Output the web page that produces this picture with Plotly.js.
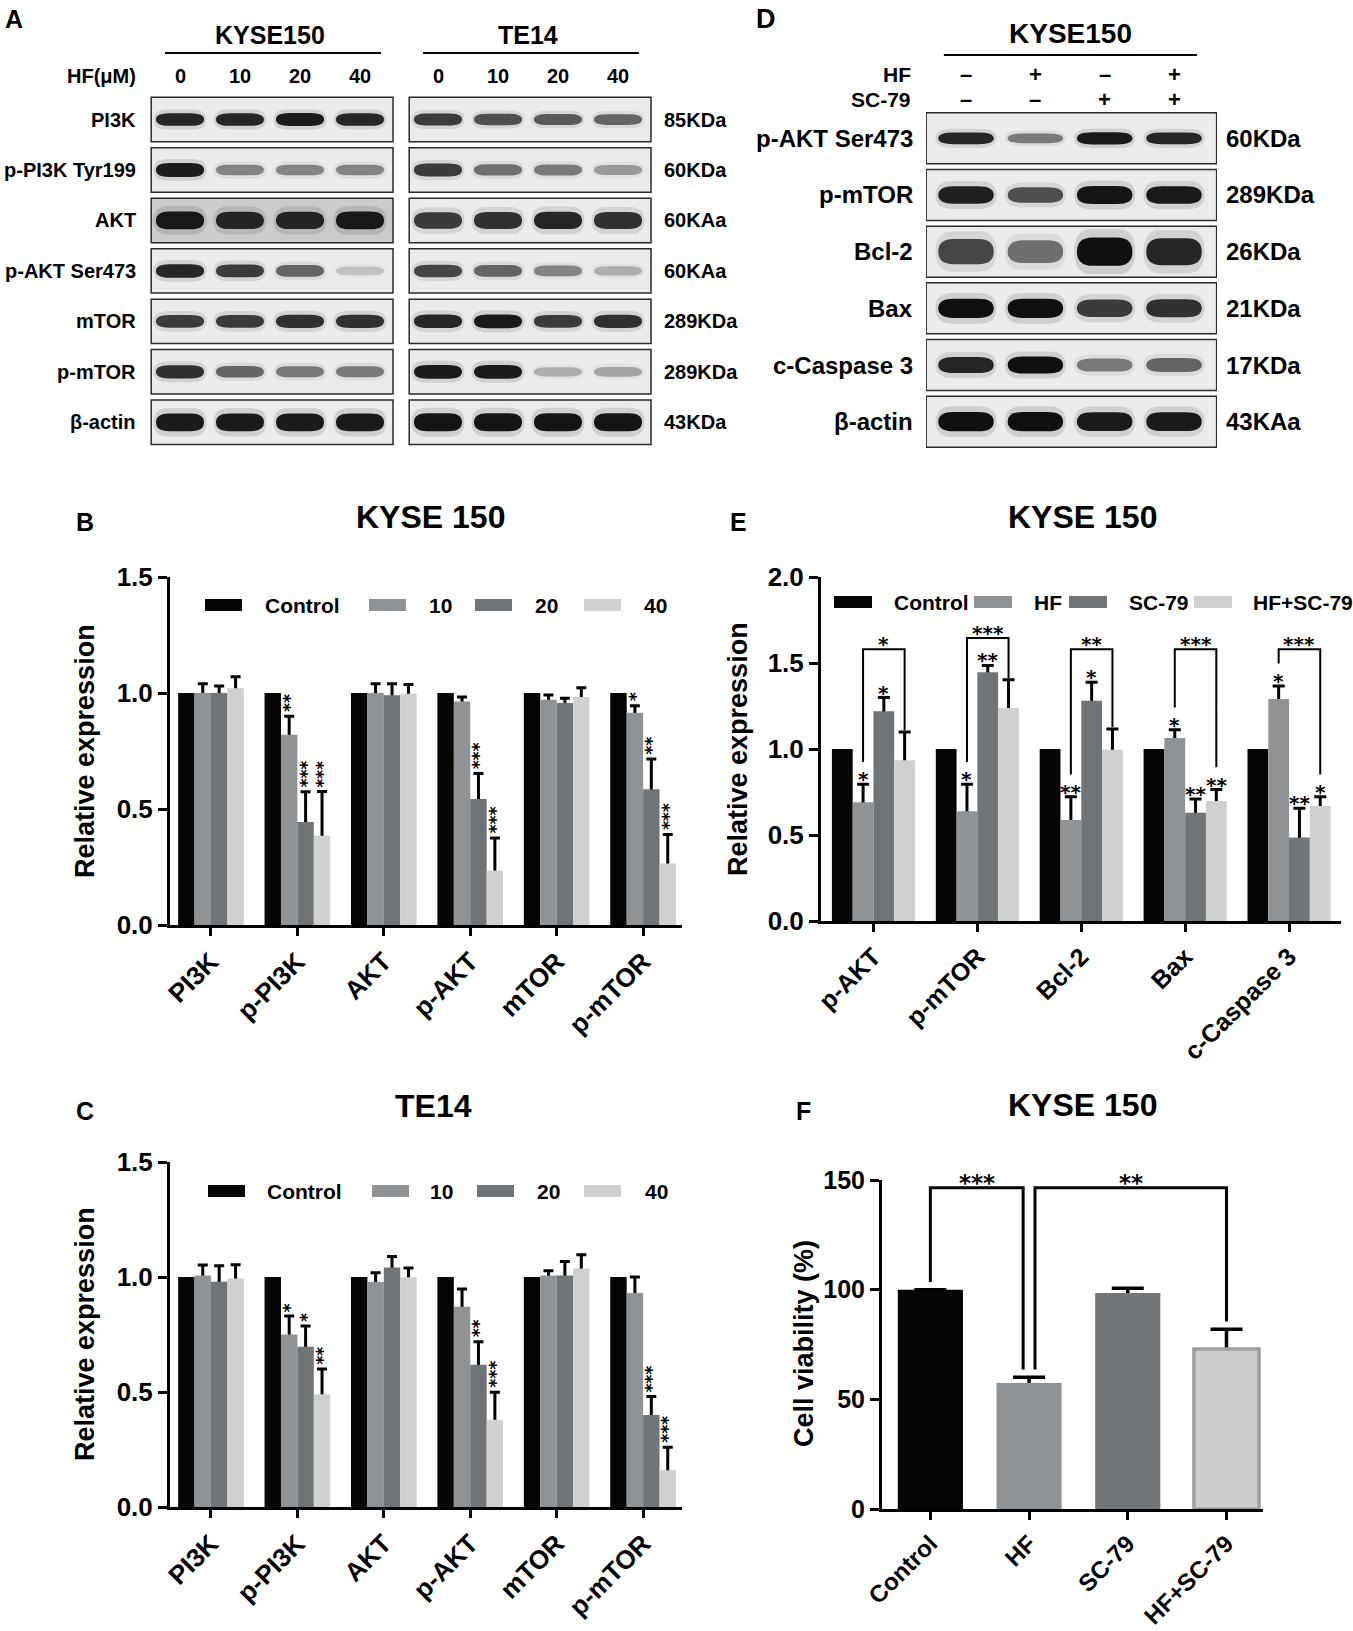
<!DOCTYPE html>
<html>
<head>
<meta charset="utf-8">
<script src="https://cdn.plot.ly/plotly-3.0.1.min.js"></script>
<style>html,body{margin:0;padding:0;background:#fff;}#chart{width:1353px;height:1631px;}</style>
</head>
<body>
<div id="chart"></div>
<script>
// ================= DATA =================
// Panels B / C
const markersBC = ['PI3K', 'p-PI3K', 'AKT', 'p-AKT', 'mTOR', 'p-mTOR'];
const doseNames = ['Control', '10', '20', '40'];
const kyseControl = [1, 1, 1, 1, 1, 1];
const kyse10 = [1.00, 0.82, 1.00, 0.963, 0.971, 0.915];
const kyse20 = [1.00, 0.444, 0.99, 0.543, 0.957, 0.585];
const kyse40 = [1.02, 0.385, 0.997, 0.235, 0.983, 0.265];
const kyseErr10 = [0.04, 0.08, 0.04, 0.02, 0.02, 0.03];
const kyseErr20 = [0.03, 0.13, 0.05, 0.11, 0.02, 0.13];
const kyseErr40 = [0.05, 0.19, 0.04, 0.14, 0.04, 0.125];
const kyseSig10 = ['', '**', '', '', '', '*'];
const kyseSig20 = ['', '***', '', '***', '', '**'];
const kyseSig40 = ['', '***', '', '***', '', '***'];

const te14Control = [1, 1, 1, 1, 1, 1];
const te14_10 = [1.007, 0.75, 0.978, 0.871, 1.007, 0.93];
const te14_20 = [0.979, 0.697, 1.041, 0.618, 1.007, 0.40];
const te14_40 = [0.993, 0.49, 0.999, 0.379, 1.037, 0.16];
const te14Err10 = [0.045, 0.08, 0.04, 0.077, 0.02, 0.07];
const te14Err20 = [0.07, 0.09, 0.048, 0.10, 0.06, 0.08];
const te14Err40 = [0.06, 0.11, 0.04, 0.12, 0.06, 0.10];
const te14Sig10 = ['', '*', '', '', '', ''];
const te14Sig20 = ['', '*', '', '**', '', '***'];
const te14Sig40 = ['', '**', '', '***', '', '***'];

// Panel E
const markersE = ['p-AKT', 'p-mTOR', 'Bcl-2', 'Bax', 'c-Caspase 3'];
const treatNames = ['Control', 'HF', 'SC-79', 'HF+SC-79'];
const eControl = [1, 1, 1, 1, 1];
const eHF = [0.69, 0.638, 0.587, 1.064, 1.29];
const eSC79 = [1.219, 1.446, 1.28, 0.629, 0.485];
const eHFSC79 = [0.934, 1.238, 0.996, 0.697, 0.668];
const eErrHF = [0.105, 0.157, 0.135, 0.048, 0.077];
const eErrSC79 = [0.08, 0.04, 0.108, 0.081, 0.17];
const eErrHFSC79 = [0.165, 0.165, 0.12, 0.067, 0.054];
const eSigHF = ['*', '*', '**', '*', '*'];
const eSigSC79 = ['*', '**', '*', '**', '**'];
const eSigHFSC79 = ['', '', '', '**', '*'];
const eSigHFvsHFSC79 = ['*', '***', '**', '***', '***'];

// Panel F
const fGroups = ['Control', 'HF', 'SC-79', 'HF+SC-79'];
const fViability = [100, 57.4, 98.5, 73.0];
const fErr = [0, 2.7, 2.1, 9.0];
const fCompFrom = [0, 1];
const fCompTo = [1, 3];
const fCompSig = ['***', '**'];

// Panel A (western blots)
const blotACells = ['KYSE150', 'TE14'];
const blotADoses = ['0', '10', '20', '40'];
const blotAProteins = ['PI3K', 'p-PI3K Tyr199', 'AKT', 'p-AKT Ser473', 'mTOR', 'p-mTOR', 'β-actin'];
const blotAKda = ['85KDa', '60KDa', '60KAa', '60KAa', '289KDa', '289KDa', '43KDa'];
const bandsKyse150 = [
  [0.90, 0.90, 0.95, 0.90],
  [0.95, 0.45, 0.45, 0.45],
  [0.95, 0.90, 0.90, 0.95],
  [0.90, 0.80, 0.60, 0.15],
  [0.80, 0.80, 0.85, 0.85],
  [0.85, 0.60, 0.50, 0.50],
  [0.95, 0.95, 0.95, 0.95]
];
const bandsTE14 = [
  [0.80, 0.70, 0.65, 0.60],
  [0.80, 0.55, 0.50, 0.35],
  [0.80, 0.85, 0.90, 0.85],
  [0.75, 0.60, 0.45, 0.25],
  [0.90, 0.95, 0.80, 0.85],
  [0.95, 0.95, 0.25, 0.30],
  [0.98, 0.98, 0.98, 0.98]
];

// Panel D (western blots)
const blotDCell = 'KYSE150';
const blotDHF = ['–', '+', '–', '+'];
const blotDSC79 = ['–', '–', '+', '+'];
const blotDProteins = ['p-AKT Ser473', 'p-mTOR', 'Bcl-2', 'Bax', 'c-Caspase 3', 'β-actin'];
const blotDKda = ['60KDa', '289KDa', '26KDa', '21KDa', '17KDa', '43KAa'];
const bandsD = [
  [0.90, 0.50, 0.95, 0.90],
  [0.92, 0.70, 0.98, 0.95],
  [0.75, 0.55, 1.00, 0.90],
  [1.00, 1.00, 0.80, 0.85],
  [0.90, 1.00, 0.50, 0.60],
  [1.00, 1.00, 0.95, 0.95]
];

// ================= STYLE / BUILD =================
const W = 1353, H = 1631;
const px = v => v / W;
const py = v => 1 - v / H;
const FONT = '"Liberation Sans", Arial, Helvetica, sans-serif';
const STARFONT = '"DejaVu Sans", "Liberation Sans", sans-serif';
const F = (size, weight) => ({family: FONT, size: size, color: '#000', weight: weight || 'bold'});
const SF = size => ({family: STARFONT, size: size, color: '#000', weight: 'bold'});
const C_CTRL = '#050505', C_1 = '#909396', C_2 = '#717477', C_3 = '#cfd0d0';

const traces = [], shapes = [], annotations = [];
function note(text, x, y, o) {
  annotations.push(Object.assign({text: text, x: x, y: y, xref: 'paper', yref: 'paper', showarrow: false,
    xanchor: 'center', yanchor: 'middle', font: F(20)}, o || {}));
}

function addGroupedBars(o) {
  const n = o.series.length, bw = o.groupW / n;
  const xs = o.cats.map((c, i) => i);
  const off = i => -o.groupW / 2 + i * bw;
  o.series.forEach((s, i) => {
    if (!s.err) return;
    traces.push({type: 'bar', x: xs, y: s.y, xaxis: o.xa, yaxis: o.ya, offset: off(i), width: bw,
      marker: {color: 'rgba(0,0,0,0)', line: {width: 0}},
      error_y: {type: 'data', array: s.err, symmetric: true, color: '#000', thickness: o.errThick, width: o.capW},
      hoverinfo: 'skip', showlegend: false});
  });
  o.series.forEach((s, i) => {
    traces.push({type: 'bar', x: xs, y: s.y, xaxis: o.xa, yaxis: o.ya, offset: off(i), width: bw, name: s.name,
      marker: {color: s.color, line: {width: 0}}, hoverinfo: 'skip', showlegend: false});
  });
  o.series.forEach((s, i) => {
    if (!s.sig) return;
    s.sig.forEach((t, j) => {
      if (!t) return;
      const xc = j + off(i) + bw / 2, top = s.y[j] + s.err[j];
      if (o.vertical) note(t, xc, top, {xref: o.xa, yref: o.ya, textangle: 90, yanchor: 'bottom', yshift: 2, xshift: -5, font: SF(17)});
      else note(t, xc, top, {xref: o.xa, yref: o.ya, yanchor: 'bottom', yshift: -9, font: SF(20)});
    });
  });
  return {bw: bw, off: off};
}

function addLegend(names, colors, swX, txX, yPx, swW, fs) {
  names.forEach((nm, i) => {
    shapes.push({type: 'rect', xref: 'paper', yref: 'paper', x0: px(swX[i]), x1: px(swX[i] + swW),
      y0: py(yPx + 6), y1: py(yPx - 6), fillcolor: colors[i], line: {width: 0}});
    note(nm, px(txX[i]), py(yPx), {xanchor: 'left', font: F(fs)});
  });
}

// ---- Panel B
addGroupedBars({xa: 'x', ya: 'y', cats: markersBC, groupW: 0.76, errThick: 3, capW: 5, vertical: true,
  series: [
    {name: doseNames[0], y: kyseControl, color: C_CTRL},
    {name: doseNames[1], y: kyse10, err: kyseErr10, sig: kyseSig10, color: C_1},
    {name: doseNames[2], y: kyse20, err: kyseErr20, sig: kyseSig20, color: C_2},
    {name: doseNames[3], y: kyse40, err: kyseErr40, sig: kyseSig40, color: C_3}
  ]});
addLegend(doseNames, [C_CTRL, C_1, C_2, C_3], [205, 369, 475, 584], [263, 427, 533, 642], 605, 37, 21);

// ---- Panel C
addGroupedBars({xa: 'x2', ya: 'y2', cats: markersBC, groupW: 0.76, errThick: 3, capW: 5, vertical: true,
  series: [
    {name: doseNames[0], y: te14Control, color: C_CTRL},
    {name: doseNames[1], y: te14_10, err: te14Err10, sig: te14Sig10, color: C_1},
    {name: doseNames[2], y: te14_20, err: te14Err20, sig: te14Sig20, color: C_2},
    {name: doseNames[3], y: te14_40, err: te14Err40, sig: te14Sig40, color: C_3}
  ]});
addLegend(doseNames, [C_CTRL, C_1, C_2, C_3], [208, 372, 477, 584], [265, 428, 535, 643], 1191, 37, 21);

// ---- Panel E
const eSeries = [
  {name: treatNames[0], y: eControl, color: C_CTRL},
  {name: treatNames[1], y: eHF, err: eErrHF, sig: eSigHF, color: C_1},
  {name: treatNames[2], y: eSC79, err: eErrSC79, sig: eSigSC79, color: C_2},
  {name: treatNames[3], y: eHFSC79, err: eErrHFSC79, sig: eSigHFSC79, color: C_3}
];
const eGeom = addGroupedBars({xa: 'x3', ya: 'y3', cats: markersE, groupW: 0.8, errThick: 3, capW: 6, vertical: false, series: eSeries});
addLegend(treatNames, [C_CTRL, C_1, C_2, C_3], [834, 974, 1069, 1194], [892, 1032, 1127, 1251], 602, 38, 21);
markersE.forEach((m, j) => {
  const xL = j + eGeom.off(1) + eGeom.bw / 2, xR = j + eGeom.off(3) + eGeom.bw / 2;
  const tops = eSeries.filter(s => s.err).map(s => s.y[j] + s.err[j]);
  const top = Math.max(1.58, Math.max.apply(null, tops) + 0.16);
  const bL = eHF[j] + eErrHF[j] + (eSigHF[j] ? 0.13 : 0.01);
  const bR = eHFSC79[j] + eErrHFSC79[j] + (eSigHFSC79[j] ? 0.13 : 0.01);
  shapes.push({type: 'path', xref: 'x3', yref: 'y3',
    path: 'M' + xL + ',' + bL + ' L' + xL + ',' + top + ' L' + xR + ',' + top + ' L' + xR + ',' + bR,
    line: {color: '#000', width: 2}, fillcolor: 'rgba(0,0,0,0)'});
  note(eSigHFvsHFSC79[j], (xL + xR) / 2, top, {xref: 'x3', yref: 'y3', yanchor: 'bottom', yshift: -9, font: SF(20)});
});

// ---- Panel F
const fColors = [C_CTRL, '#8f9295', '#727578', '#cccdcd'];
const fLines = [C_CTRL, '#8f9295', '#727578', '#9fa0a1'];
const fx = fGroups.map((g, i) => i);
traces.push({type: 'bar', x: fx, y: fViability, xaxis: 'x4', yaxis: 'y4', offset: -0.33, width: 0.66,
  marker: {color: 'rgba(0,0,0,0)', line: {width: 0}},
  error_y: {type: 'data', array: fErr, symmetric: true, color: '#000', thickness: 3.5, width: 16},
  hoverinfo: 'skip', showlegend: false});
traces.push({type: 'bar', x: fx, y: fViability, xaxis: 'x4', yaxis: 'y4', offset: -0.33, width: 0.66,
  marker: {color: fColors, line: {color: fLines, width: [0, 0, 0, 3.5]}}, hoverinfo: 'skip', showlegend: false});
(function () {
  const count = {};
  fCompFrom.concat(fCompTo).forEach(k => { count[k] = (count[k] || 0) + 1; });
  const brTop = 146.5;
  fCompFrom.forEach((a, c) => {
    const b = fCompTo[c];
    const xL = a + (count[a] > 1 ? 0.06 : 0), xR = b - (count[b] > 1 ? 0.06 : 0);
    const bL = fViability[a] + fErr[a] + 3.5, bR = fViability[b] + fErr[b] + 3.5;
    shapes.push({type: 'path', xref: 'x4', yref: 'y4',
      path: 'M' + xL + ',' + bL + ' L' + xL + ',' + brTop + ' L' + xR + ',' + brTop + ' L' + xR + ',' + bR,
      line: {color: '#000', width: 3}, fillcolor: 'rgba(0,0,0,0)'});
    note(fCompSig[c], (xL + xR) / 2, brTop, {xref: 'x4', yref: 'y4', yanchor: 'bottom', yshift: -10, font: SF(23)});
  });
})();

// ---- Blot helpers
function capsule(xc, yc, w, h) {
  const x0 = xc - w / 2, x1 = xc + w / 2, y0 = yc - h / 2, y1 = yc + h / 2, r = w * 0.28;
  const f = v => v.toFixed(4);
  return 'M' + f(x0) + ',' + f(yc) + ' Q' + f(x0) + ',' + f(y0) + ' ' + f(x0 + r) + ',' + f(y0) +
    ' L' + f(x1 - r) + ',' + f(y0) + ' Q' + f(x1) + ',' + f(y0) + ' ' + f(x1) + ',' + f(yc) +
    ' Q' + f(x1) + ',' + f(y1) + ' ' + f(x1 - r) + ',' + f(y1) + ' L' + f(x0 + r) + ',' + f(y1) +
    ' Q' + f(x0) + ',' + f(y1) + ' ' + f(x0) + ',' + f(yc) + ' Z';
}
function addBand(xr, yr, xc, yc, w, thick, v) {
  const g = Math.round(226 - 218 * v);
  const col = 'rgb(' + g + ',' + g + ',' + g + ')';
  const h = thick * (0.55 + 0.45 * v);
  shapes.push({type: 'path', xref: xr, yref: yr, path: capsule(xc, yc, w + 0.08, h * 1.6), fillcolor: col, opacity: 0.12, line: {width: 0}});
  shapes.push({type: 'path', xref: xr, yref: yr, path: capsule(xc, yc, w, h), fillcolor: col, opacity: 0.96, line: {width: 0}});
}

// ---- Panel A
const blockStart = [0, 4.3];
const thickA = [0.26, 0.28, 0.36, 0.28, 0.28, 0.28, 0.36];
[bandsKyse150, bandsTE14].forEach((bands, b) => {
  blotAProteins.forEach((p, r) => {
    shapes.push({type: 'rect', xref: 'x5', yref: 'y5', x0: blockStart[b] - 0.48, x1: blockStart[b] + 3.55,
      y0: r - 0.44, y1: r + 0.44, fillcolor: (b === 0 && r === 2) ? '#cbcbcb' : '#ebebeb', line: {color: '#2a2a2a', width: 1.5}});
    bands[r].forEach((v, k) => addBand('x5', 'y5', blockStart[b] + k, r, 0.8, thickA[r], v));
  });
  note(blotACells[b], blockStart[b] + 1.5, py(35), {xref: 'x5', font: F(25)});
  shapes.push({type: 'line', xref: 'x5', yref: 'paper', x0: blockStart[b] - 0.25, x1: blockStart[b] + 3.35,
    y0: py(53), y1: py(53), line: {color: '#000', width: 2}});
  blotADoses.forEach((d, k) => note(d, blockStart[b] + k, py(76), {xref: 'x5', font: F(20)}));
});
note('HF(μM)', px(138), py(76), {xanchor: 'right', font: F(20)});
blotAProteins.forEach((p, r) => {
  note(p, px(138), r, {yref: 'y5', xanchor: 'right', font: F(20)});
  note(blotAKda[r], px(662), r, {yref: 'y5', xanchor: 'left', font: F(20)});
});
traces.push({type: 'scatter', x: [0], y: [0], xaxis: 'x5', yaxis: 'y5', mode: 'markers', marker: {opacity: 0}, hoverinfo: 'skip', showlegend: false});

// ---- Panel D
const thickD = [0.22, 0.32, 0.5, 0.34, 0.3, 0.34];
blotDProteins.forEach((p, r) => {
  shapes.push({type: 'rect', xref: 'x6', yref: 'y6', x0: -0.575, x1: 3.615, y0: r - 0.45, y1: r + 0.45,
    fillcolor: '#ebebeb', line: {color: '#2a2a2a', width: 1.5}});
  bandsD[r].forEach((v, k) => addBand('x6', 'y6', k, r, 0.8, thickD[r], v));
  note(p, px(915), r, {yref: 'y6', xanchor: 'right', font: F(24)});
  note(blotDKda[r], px(1224), r, {yref: 'y6', xanchor: 'left', font: F(24)});
});
note(blotDCell, 1.5, py(33), {xref: 'x6', font: F(28)});
shapes.push({type: 'line', xref: 'x6', yref: 'paper', x0: -0.32, x1: 3.33, y0: py(55), y1: py(55), line: {color: '#000', width: 2}});
note('HF', px(913), py(74), {xanchor: 'right', font: F(21)});
note('SC-79', px(913), py(100), {xanchor: 'right', font: F(21)});
blotDHF.forEach((s, k) => note(s, k, py(74), {xref: 'x6', font: F(22)}));
blotDSC79.forEach((s, k) => note(s, k, py(100), {xref: 'x6', font: F(22)}));
traces.push({type: 'scatter', x: [0], y: [0], xaxis: 'x6', yaxis: 'y6', mode: 'markers', marker: {opacity: 0}, hoverinfo: 'skip', showlegend: false});

// ---- Titles, panel letters, axis titles
note('A', px(3), py(19), {xanchor: 'left', font: F(25)});
note('D', px(766), py(19), {xanchor: 'center', font: F(27)});
note('B', px(85), py(522), {font: F(25)});
note('C', px(85), py(1111), {font: F(25)});
note('E', px(738), py(522), {font: F(25)});
note('F', px(803), py(1111), {font: F(25)});
note('KYSE 150', px(430), py(517), {font: F(32)});
note('TE14', px(433), py(1106), {font: F(32)});
note('KYSE 150', px(1082), py(517), {font: F(32)});
note('KYSE 150', px(1082), py(1105), {font: F(32)});
note('Relative expression', px(85), py(751), {textangle: -90, font: F(27)});
note('Relative expression', px(85), py(1334), {textangle: -90, font: F(27)});
note('Relative expression', px(738), py(749), {textangle: -90, font: F(27)});
note('Cell viability (%)', px(804), py(1344), {textangle: -90, font: F(27)});

// ---- Axes
const ax = {showline: true, linecolor: '#000', linewidth: 3, ticks: 'outside', tickcolor: '#000', tickwidth: 3,
  ticklen: 9, showgrid: false, zeroline: false, fixedrange: true};
const layout = {
  width: W, height: H, margin: {l: 0, r: 0, t: 0, b: 0}, paper_bgcolor: '#fff', plot_bgcolor: 'rgba(0,0,0,0)',
  barmode: 'overlay', showlegend: false, hovermode: false,
  xaxis: Object.assign({}, ax, {domain: [px(170), px(682)], range: [-0.474, 5.45], anchor: 'y',
    tickvals: markersBC.map((m, i) => i), ticktext: markersBC, tickangle: -45, tickfont: F(26), ticklen: 8}),
  yaxis: Object.assign({}, ax, {domain: [py(925), py(577)], range: [0, 1.5], anchor: 'x',
    tickvals: [0, 0.5, 1, 1.5], ticktext: ['0.0', '0.5', '1.0', '1.5'], tickfont: F(26)}),
  xaxis2: Object.assign({}, ax, {domain: [px(170), px(682)], range: [-0.474, 5.45], anchor: 'y2',
    tickvals: markersBC.map((m, i) => i), ticktext: markersBC, tickangle: -45, tickfont: F(26), ticklen: 8}),
  yaxis2: Object.assign({}, ax, {domain: [py(1507), py(1162)], range: [0, 1.5], anchor: 'x2',
    tickvals: [0, 0.5, 1, 1.5], ticktext: ['0.0', '0.5', '1.0', '1.5'], tickfont: F(26)}),
  xaxis3: Object.assign({}, ax, {domain: [px(821), px(1341)], range: [-0.505, 4.5], anchor: 'y3',
    tickvals: markersE.map((m, i) => i), ticktext: markersE, tickangle: -45, tickfont: F(25), ticklen: 8}),
  yaxis3: Object.assign({}, ax, {domain: [py(921), py(577)], range: [0, 2], anchor: 'x3',
    tickvals: [0, 0.5, 1, 1.5, 2], ticktext: ['0.0', '0.5', '1.0', '1.5', '2.0'], tickfont: F(26)}),
  xaxis4: Object.assign({}, ax, {domain: [px(882), px(1263)], range: [-0.49, 3.37], anchor: 'y4',
    tickvals: fx, ticktext: fGroups, tickangle: -45, tickfont: F(24), ticklen: 8}),
  yaxis4: Object.assign({}, ax, {domain: [py(1509), py(1180)], range: [0, 150], anchor: 'x4',
    tickvals: [0, 50, 100, 150], tickfont: F(25)}),
  xaxis5: {domain: [px(150), px(660)], range: [-0.5, 8.0], visible: false, anchor: 'y5', fixedrange: true},
  yaxis5: {domain: [py(447.5), py(94.3)], range: [6.5, -0.5], visible: false, anchor: 'x5', fixedrange: true},
  xaxis6: {domain: [px(926), px(1217)], range: [-0.577, 3.62], visible: false, anchor: 'y6', fixedrange: true},
  yaxis6: {domain: [py(450), py(110)], range: [5.5, -0.5], visible: false, anchor: 'x6', fixedrange: true},
  shapes: shapes,
  annotations: annotations
};

Plotly.newPlot('chart', traces, layout, {staticPlot: true, displayModeBar: false});
</script>
</body>
</html>
